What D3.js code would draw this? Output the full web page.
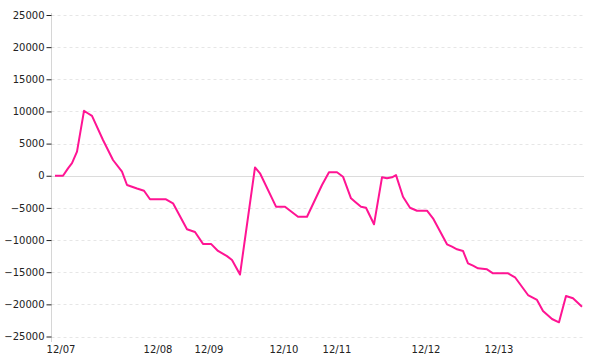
<!DOCTYPE html>
<html>
<head>
<meta charset="utf-8">
<script src="https://cdn.jsdelivr.net/npm/d3@7"></script>
<style>
  body { margin: 0; background: #fff; }
  svg text { font-family: "DejaVu Sans", Verdana, sans-serif; font-size: 10px; fill: #222; }
</style>
</head>
<body>
<svg id="equity-chart" width="600" height="360"></svg>
<script>
const tradeNo = [0, 8, 13, 17, 22, 29, 32, 37, 48, 58, 67, 72, 82, 89, 95, 111, 118, 132, 140, 148,
    156, 163, 172, 177, 185, 200, 205, 221, 230, 243, 252, 267, 274, 282, 288, 296, 300, 306, 311, 319,
    327, 332, 337, 341, 348, 355, 362, 372, 378, 392, 397, 402, 408, 413, 418, 423, 432, 438, 453, 460,
    473, 482, 488, 497, 504, 511, 518, 527];
const equity = [0, 0, 1150, 1950, 3740, 10100, 9800, 9300, 5560, 2450, 630, -1440, -1980, -2330, -3660, -3660, -4280, -8330, -8750, -10600,
    -10600, -11700, -12500, -13100, -15360, 1300, 380, -4810, -4810, -6370, -6370, -1440, 540, 540, -150, -3510, -4040, -4810, -4970, -7550,
    -240, -400, -240, 100, -3260, -4970, -5440, -5440, -6620, -10660, -11030, -11440, -11700, -13620, -13990, -14390, -14550, -15170, -15170, -15790,
    -18550, -19320, -21040, -22280, -22790, -18700, -19060, -20370];

// axis labels
const yTicks = [25000, 20000, 15000, 10000, 5000, 0, -5000, -10000, -15000, -20000, -25000];
const xLabels = ['12/07', '12/08', '12/09', '12/10', '12/11', '12/12', '12/13'];
const xLabelAt = [6, 103, 154, 229, 282, 371, 444];

function drawChart(svg_id) {
    const svg = d3.select(svg_id);
    const axisX = 51.5;
    const rightEdge = 584;

    const xScale = d3.scaleLinear()
        .domain([0, 527])
        .range([55, 582]);

    const yScale = d3.scaleLinear()
        .domain([-25000, 25000])
        .range([336.5, 15]);

    // dashed grid lines
    svg.append('g')
        .selectAll('line')
        .data(yTicks.filter(d => d !== 0))
        .enter()
        .append('line')
        .attr('x1', axisX)
        .attr('x2', rightEdge)
        .attr('y1', d => Math.round(yScale(d)) + 0.5)
        .attr('y2', d => Math.round(yScale(d)) + 0.5)
        .attr('stroke', '#e6e6e6')
        .attr('stroke-dasharray', '3,3');

    // zero line
    svg.append('line')
        .attr('x1', axisX)
        .attr('x2', rightEdge)
        .attr('y1', Math.round(yScale(0)) + 0.5)
        .attr('y2', Math.round(yScale(0)) + 0.5)
        .attr('stroke', '#dcdcdc');

    // Y axis
    const yAxis = svg.append('g')
        .attr('transform', `translate(${axisX}, 0)`)
        .call(d3.axisLeft(yScale)
            .tickValues(yTicks)
            .tickFormat(d3.format('d'))
            .tickSize(5)
            .tickPadding(2)
            .tickSizeOuter(0));
    yAxis.select('.domain')
        .attr('d', `M0,13V342`)
        .attr('stroke', '#d6d6d6');
    yAxis.selectAll('.tick line').attr('stroke', '#222');
    yAxis.selectAll('.tick text')
        .style('font-family', '"DejaVu Sans", Verdana, sans-serif')
        .style('font-size', '10px')
        .attr('fill', '#222');

    // X labels
    svg.append('g')
        .selectAll('text')
        .data(xLabels)
        .enter()
        .append('text')
        .attr('x', (d, i) => xScale(xLabelAt[i]))
        .attr('y', 353)
        .style('text-anchor', 'middle')
        .text(d => d);

    // equity line
    const line = d3.line()
        .x((d, i) => xScale(tradeNo[i]))
        .y(d => yScale(d));

    svg.append('path')
        .datum(equity)
        .attr('fill', 'none')
        .attr('stroke', '#ff1493')
        .attr('stroke-width', 2)
        .attr('stroke-linejoin', 'round')
        .attr('d', line);
}

drawChart('#equity-chart');
</script>
</body>
</html>
